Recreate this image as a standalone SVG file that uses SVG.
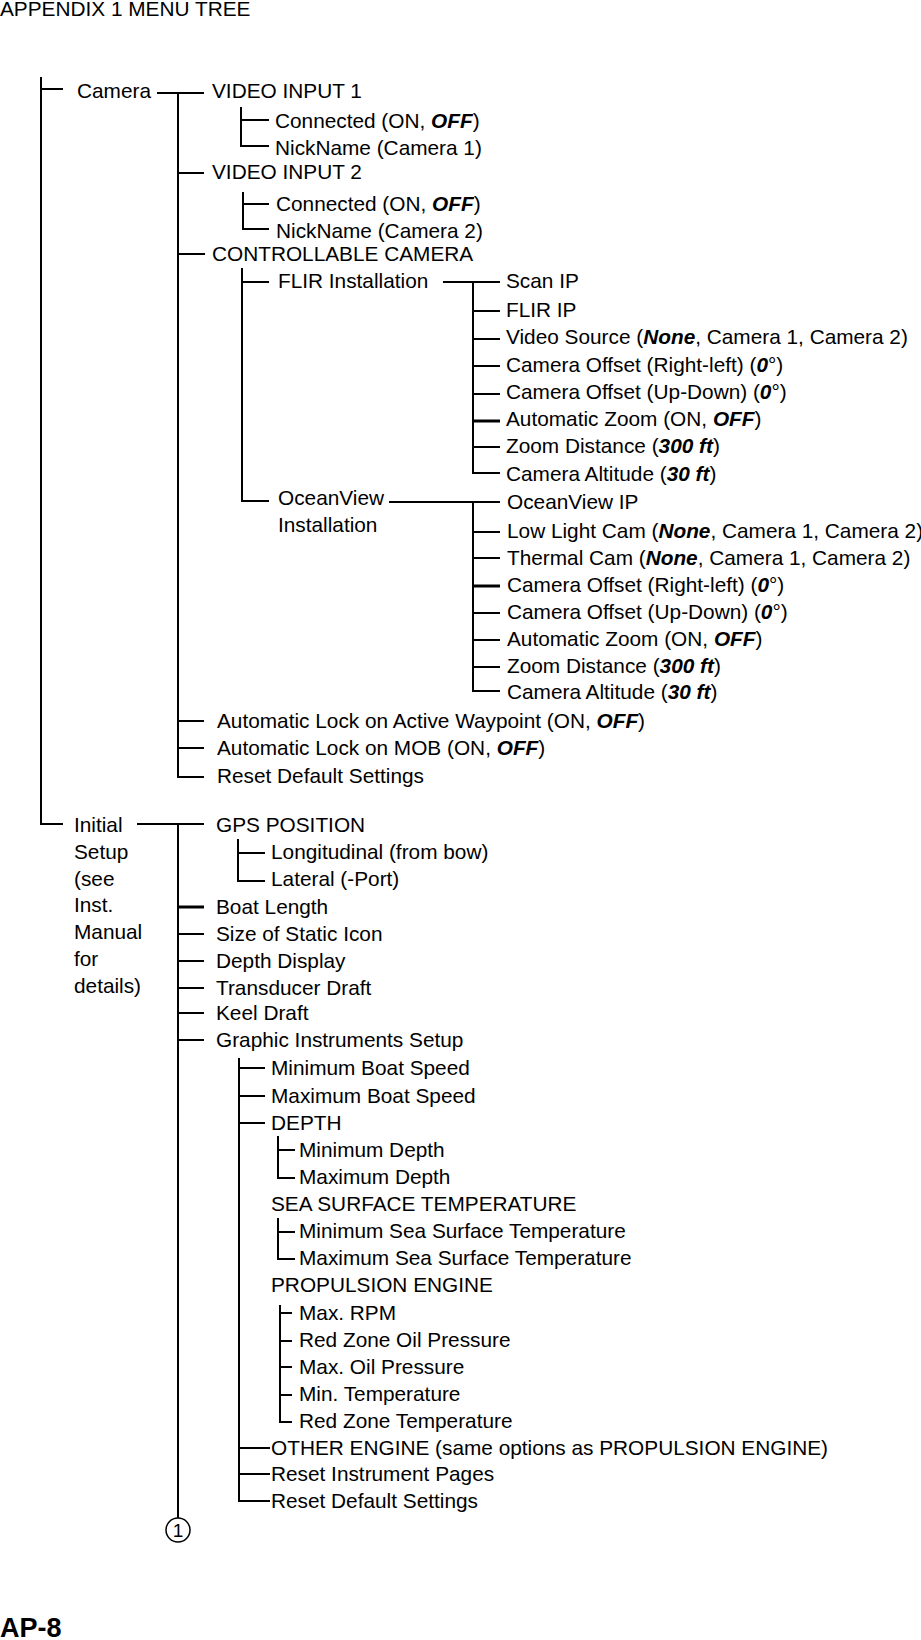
<svg xmlns="http://www.w3.org/2000/svg" width="921" height="1640" viewBox="0 0 921 1640">
<style>
text{font-family:"Liberation Sans",Arial,sans-serif;font-size:20.8px;fill:#000}
.b{font-weight:bold;font-style:italic}
.ap{font-weight:bold;font-size:27px}
#connectors line,#connectors path{stroke:#000;stroke-width:2;fill:none}
.k{stroke-width:3 !important}
</style>
<rect width="921" height="1640" fill="#fff"/>
<text x="0" y="16">APPENDIX 1 MENU TREE</text>
<g id="connectors">
<line x1="41" y1="77" x2="41" y2="825"/>
<line x1="40" y1="89" x2="63" y2="89"/>
<line x1="157" y1="93" x2="204" y2="93"/>
<line x1="178" y1="92" x2="178" y2="778"/>
<line x1="178" y1="173" x2="204" y2="173"/>
<line x1="178" y1="254" x2="205" y2="254"/>
<line x1="178" y1="721" x2="204" y2="721"/>
<line x1="178" y1="748" x2="204" y2="748"/>
<line x1="177" y1="777" x2="204" y2="777"/>
<path d="M241 107V146H269M241 120H269"/>
<path d="M243 192V229H269M243 204H269"/>
<path d="M242 268V501H269M242 282H269"/>
<path d="M443 282H500M473 282V473H500M473 311H500M473 339H500M473 366H500M473 394H500M473 447H500"/>
<line class="k" x1="473" y1="421" x2="500" y2="421"/>
<path d="M389 502H500M473 502V691H500M473 532H500M473 558H500M473 613H500M473 640H500M473 667H500"/>
<line class="k" x1="473" y1="586" x2="500" y2="586"/>
<path d="M40 824H63M137 824H204M178 824V1518"/>
<path d="M238 839V881H265M238 853H265"/>
<path d="M178 934H204M178 961H204M178 988H204M178 1013H204M178 1040H204"/>
<line class="k" x1="178" y1="907" x2="204" y2="907"/>
<path d="M239 1058V1501H270M239 1068H265M239 1096H265M239 1123H265M239 1448H270M239 1474H270"/>
<path d="M278 1136V1178H295M278 1150H295"/>
<path d="M278 1218V1259H295M278 1232H295"/>
<path d="M280 1305V1422H292M280 1313H292M280 1341H292M280 1367H292M280 1395H292"/>
</g>
<g id="n-camera"><text x="77" y="98">Camera</text></g>
<g id="n-vi1"><text x="212" y="98">VIDEO INPUT 1</text></g>
<g id="n-vi1-conn"><text x="275" y="128">Connected (ON, <tspan class="b">OFF</tspan>)</text></g>
<g id="n-vi1-nick"><text x="275" y="155">NickName (Camera 1)</text></g>
<g id="n-vi2"><text x="212" y="179">VIDEO INPUT 2</text></g>
<g id="n-vi2-conn"><text x="276" y="211">Connected (ON, <tspan class="b">OFF</tspan>)</text></g>
<g id="n-vi2-nick"><text x="276" y="238">NickName (Camera 2)</text></g>
<g id="n-cc"><text x="212" y="261">CONTROLLABLE CAMERA</text></g>
<g id="n-flir"><text x="278" y="288">FLIR Installation</text></g>
<g id="n-flir-items">
<text x="506" y="288">Scan IP</text>
<text x="506" y="317">FLIR IP</text>
<text x="506" y="344">Video Source (<tspan class="b">None</tspan>, Camera 1, Camera 2)</text>
<text x="506" y="372">Camera Offset (Right-left) (<tspan class="b">0</tspan>°)</text>
<text x="506" y="399">Camera Offset (Up-Down) (<tspan class="b">0</tspan>°)</text>
<text x="506" y="426">Automatic Zoom (ON, <tspan class="b">OFF</tspan>)</text>
<text x="506" y="453">Zoom Distance (<tspan class="b">300 ft</tspan>)</text>
<text x="506" y="481">Camera Altitude (<tspan class="b">30 ft</tspan>)</text>
</g>
<g id="n-ocean"><text x="278" y="505">OceanView</text><text x="278" y="532">Installation</text></g>
<g id="n-ocean-items">
<text x="507" y="509">OceanView IP</text>
<text x="507" y="538">Low Light Cam (<tspan class="b">None</tspan>, Camera 1, Camera 2)</text>
<text x="507" y="565">Thermal Cam (<tspan class="b">None</tspan>, Camera 1, Camera 2)</text>
<text x="507" y="592">Camera Offset (Right-left) (<tspan class="b">0</tspan>°)</text>
<text x="507" y="619">Camera Offset (Up-Down) (<tspan class="b">0</tspan>°)</text>
<text x="507" y="646">Automatic Zoom (ON, <tspan class="b">OFF</tspan>)</text>
<text x="507" y="673">Zoom Distance (<tspan class="b">300 ft</tspan>)</text>
<text x="507" y="699">Camera Altitude (<tspan class="b">30 ft</tspan>)</text>
</g>
<g id="n-lockwp"><text x="217" y="728">Automatic Lock on Active Waypoint (ON, <tspan class="b">OFF</tspan>)</text></g>
<g id="n-lockmob"><text x="217" y="755">Automatic Lock on MOB (ON, <tspan class="b">OFF</tspan>)</text></g>
<g id="n-reset1"><text x="217" y="783">Reset Default Settings</text></g>
<g id="n-initial">
<text x="74" y="832">Initial</text><text x="74" y="859">Setup</text><text x="74" y="886">(see</text><text x="74" y="912">Inst.</text><text x="74" y="939">Manual</text><text x="74" y="966">for</text><text x="74" y="993">details)</text>
</g>
<g id="n-gps"><text x="216" y="832">GPS POSITION</text></g>
<g id="n-gps-items"><text x="271" y="859">Longitudinal (from bow)</text><text x="271" y="886">Lateral (-Port)</text></g>
<g id="n-boat"><text x="216" y="914">Boat Length</text></g>
<g id="n-size"><text x="216" y="941">Size of Static Icon</text></g>
<g id="n-depthdisp"><text x="216" y="968">Depth Display</text></g>
<g id="n-trans"><text x="216" y="995">Transducer Draft</text></g>
<g id="n-keel"><text x="216" y="1020">Keel Draft</text></g>
<g id="n-graphic"><text x="216" y="1047">Graphic Instruments Setup</text></g>
<g id="n-graphic-items">
<text x="271" y="1075">Minimum Boat Speed</text>
<text x="271" y="1103">Maximum Boat Speed</text>
<text x="271" y="1130">DEPTH</text>
<text x="299" y="1157">Minimum Depth</text>
<text x="299" y="1184">Maximum Depth</text>
<text x="271" y="1211">SEA SURFACE TEMPERATURE</text>
<text x="299" y="1238">Minimum Sea Surface Temperature</text>
<text x="299" y="1265">Maximum Sea Surface Temperature</text>
<text x="271" y="1292">PROPULSION ENGINE</text>
<text x="299" y="1320">Max. RPM</text>
<text x="299" y="1347">Red Zone Oil Pressure</text>
<text x="299" y="1374">Max. Oil Pressure</text>
<text x="299" y="1401">Min. Temperature</text>
<text x="299" y="1428">Red Zone Temperature</text>
<text x="271" y="1455">OTHER ENGINE (same options as PROPULSION ENGINE)</text>
<text x="271" y="1481">Reset Instrument Pages</text>
<text x="271" y="1508">Reset Default Settings</text>
</g>
<g id="n-circle1"><circle cx="178" cy="1530" r="12" fill="none" stroke="#000" stroke-width="1.5"/><text x="178" y="1537" text-anchor="middle" style="font-size:19px">1</text></g>
<text class="ap" x="0" y="1637">AP-8</text>
</svg>
